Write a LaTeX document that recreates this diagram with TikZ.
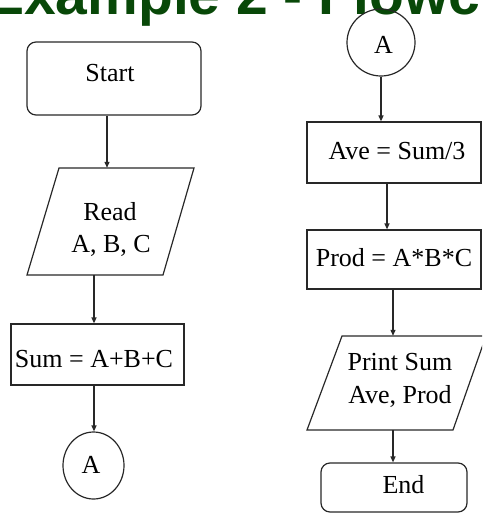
\documentclass[tikz,border=0pt]{standalone}
\usepackage{fontspec}
\setmainfont{Liberation Serif}
\newfontfamily\titlefont{Liberation Sans}
\usetikzlibrary{arrows.meta,shapes.geometric}
\definecolor{titlegreen}{RGB}{8,72,8}
\definecolor{linegray}{RGB}{40,40,40}
\tikzset{
  shapeline/.style={draw=linegray, line width=1.2pt},
  boxnode/.style={shapeline, rectangle, inner sep=0pt},
  termnode/.style={shapeline, rectangle, rounded corners=9pt, inner sep=0pt},
  connnode/.style={shapeline, ellipse, inner sep=0pt},
  ionode/.style={rectangle, inner sep=0pt},
  txt/.style={inner sep=0pt, anchor=base, font=\fontsize{26}{30}\selectfont},
  arr/.style={draw=linegray, line width=1.2pt, -{Triangle[length=6pt,width=5pt]}}
}
\begin{document}
\begin{tikzpicture}[x=1pt,y=-1pt]
\useasboundingbox (0,0) rectangle (482,514);
\clip (0,0) rectangle (482,514);
% title (cropped at top)
\node[inner sep=0pt, anchor=base west, text=titlegreen, font=\titlefont\bfseries\fontsize{57}{60}\selectfont] (title) at (-14,14) {Example 2 - Flowchart};

% left column
\node[termnode, minimum width=174pt, minimum height=73pt] (start) at (114,78.5) {};
\node[txt] (starttxt) at (110,81) {Start};

\node[ionode, minimum width=135pt, minimum height=107pt] (read) at (110.75,221.5) {};
\draw[shapeline] (59,168) -- (194,168) -- (163,275) -- (27,275) -- cycle;
\node[txt] (readtxt1) at (110,220) {Read};
\node[txt] (readtxt2) at (111,252) {A, B, C};

\node[boxnode, minimum width=173pt, minimum height=61pt] (sum) at (97.5,354.5) {};
\node[txt] (sumtxt) at (94,367) {Sum = A+B+C};

\node[connnode, minimum width=61pt, minimum height=67pt] (a1) at (93.5,465.5) {};
\node[txt] (a1txt) at (91,473) {A};

% right column
\node[connnode, minimum width=68pt, minimum height=67pt] (a2) at (381,42.5) {};
\node[txt] (a2txt) at (383.5,53) {A};

\node[boxnode, minimum width=174pt, minimum height=61pt] (ave) at (394,152.5) {};
\node[txt] (avetxt) at (397,159) {Ave = Sum/3};

\node[boxnode, minimum width=174pt, minimum height=59pt] (prod) at (394,259.5) {};
\node[txt] (prodtxt) at (394,266) {Prod = A*B*C};

\node[ionode, minimum width=146pt, minimum height=94pt] (print) at (397,383) {};
\draw[shapeline] (342,336) -- (486,336) -- (453,430) -- (307,430) -- cycle;
\node[txt] (printtxt1) at (400,370) {Print Sum};
\node[txt] (printtxt2) at (400,403) {Ave, Prod};

\node[termnode, minimum width=146pt, minimum height=49pt] (end) at (394,487.5) {};
\node[txt] (endtxt) at (403.5,493) {End};

% connectors
\draw[arr] ([xshift=-7pt]start.south) -- ([xshift=-7pt]start.south |- read.north);
\draw[arr] ([xshift=-16.75pt]read.south) -- ([xshift=-16.75pt]read.south |- sum.north);
\draw[arr] ([xshift=-3.5pt]sum.south) -- ([xshift=-3.5pt]sum.south |- a1.north);
\draw[arr] (a2.south) -- (a2.south |- ave.north);
\draw[arr] ([xshift=-7pt]ave.south) -- ([xshift=-7pt]ave.south |- prod.north);
\draw[arr] ([xshift=-1pt]prod.south) -- ([xshift=-1pt]prod.south |- print.north);
\draw[arr] ([xshift=-4pt]print.south) -- ([xshift=-4pt]print.south |- end.north);
\end{tikzpicture}
\end{document}
